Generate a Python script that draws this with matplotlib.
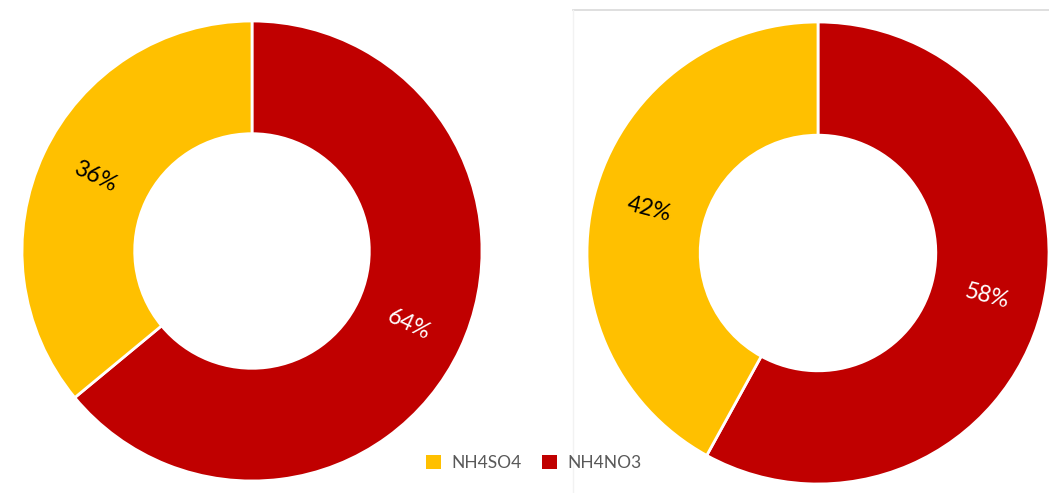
import numpy as np
import matplotlib.pyplot as plt
from matplotlib.lines import Line2D
from matplotlib.patches import Patch

plt.rcParams['font.family'] = ['Lato', 'DejaVu Sans']

species = ["NH4NO3", "NH4SO4"]
left_share = [64, 36]
right_share = [58, 42]
colors = ["#C00000", "#FFC000"]
label_colors = ["white", "black"]


def donut(ax, shares):
    wedges, _ = ax.pie(shares, colors=colors, startangle=90, counterclock=False,
                       radius=1.0, wedgeprops=dict(width=0.49, edgecolor="white", linewidth=2))
    for w, v, c in zip(wedges, shares, label_colors):
        mid = np.deg2rad((w.theta1 + w.theta2) / 2)
        r = 1.0 - 0.49 / 2
        x, y = r * np.cos(mid), r * np.sin(mid)
        rot = np.rad2deg(mid)
        # keep the text readable: radial orientation, flipped on the left side
        if np.cos(mid) < 0:
            rot -= 180
        ax.text(x, y, f"{v}%", ha="center", va="center", rotation=rot,
                rotation_mode="anchor", fontsize=16.5, color=c)
    ax.set_xlim(-1, 1)
    ax.set_ylim(-1, 1)
    ax.axis("off")


fig = plt.figure(figsize=(10.49, 4.93), dpi=100)
W, H = 1049, 493

ax1 = fig.add_axes([22 / W, 12 / H, 460 / W, 460 / H])
donut(ax1, left_share)

ax2 = fig.add_axes([587 / W, 9 / H, 462 / W, 462 / H])
donut(ax2, right_share)

# frame lines of the second chart
fig.add_artist(Line2D([573 / W, 1], [1 - 10 / H, 1 - 10 / H], color="#d9d9d9", lw=1.2))
fig.add_artist(Line2D([573 / W, 573 / W], [0, 1 - 10 / H], color="#f2f2f2", lw=1))

handles = [Patch(facecolor=colors[1], label=species[1]),
           Patch(facecolor=colors[0], label=species[0])]
fig.legend(handles=handles, loc="center", bbox_to_anchor=(534 / W, 1 - 463 / H),
           ncol=2, frameon=False, fontsize=12.5, labelcolor="#595959",
           handlelength=0.85, handleheight=0.85, handletextpad=0.6, columnspacing=1.2)

fig.savefig("out.png", dpi=100)
